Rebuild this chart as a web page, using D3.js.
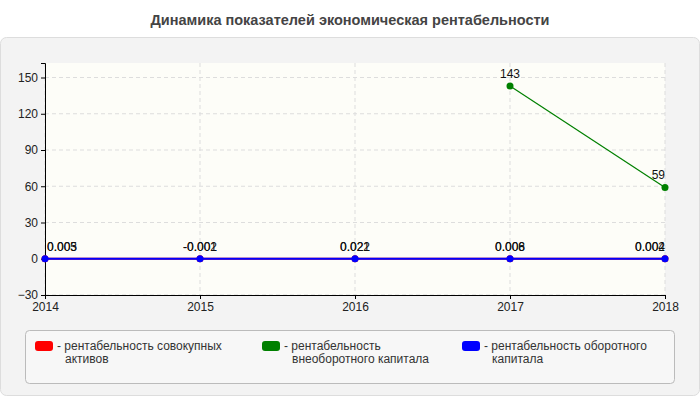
<!DOCTYPE html>
<html><head><meta charset="utf-8">
<script src="https://cdn.jsdelivr.net/npm/d3@7"></script>
<style>body{margin:0;background:#fff;font-family:Arial,"Liberation Sans",sans-serif}</style>
</head><body><svg id="c" width="700" height="400"></svg>
<script>
var years = [2014, 2015, 2016, 2017, 2018]
var seriesNames = ['рентабельность совокупных активов', 'рентабельность внеоборотного капитала', 'рентабельность оборотного капитала']
var seriesColors = ['#ff0000', '#008000', '#0000ff']
var totalAssets = [0.005, -0.001, 0.021, 0.006, 0.004]
var fixedCapital = [null, null, null, 143, 59]
var workingCapital = [0.003, -0.002, 0.022, 0.008, 0.002]
var yTicks = [-30, 0, 30, 60, 90, 120, 150]

var svg = d3.select('#c')
svg.append('text').attr('x', 350).attr('y', 25).attr('text-anchor', 'middle')
  .attr('font-size', 14.5).attr('font-weight', 'bold').attr('fill', '#444')
  .text('Динамика показателей экономическая рентабельности')
svg.append('rect').attr('x', 0.5).attr('y', 37.5).attr('width', 699).attr('height', 358)
  .attr('rx', 6).attr('fill', '#f3f3f3').attr('stroke', '#ddd')

var x = d3.scalePoint().domain(years).range([45, 665])
var y = d3.scaleLinear().domain([-30, 162]).range([295, 63])

svg.append('rect').attr('x', 45).attr('y', 63).attr('width', 620).attr('height', 232).attr('fill', '#fdfdf8')
var g = svg.append('g')
g.selectAll('.hg').data(yTicks).join('line')
  .attr('x1', 45).attr('x2', 665).attr('y1', d => y(d)).attr('y2', d => y(d))
  .attr('stroke', '#ddd').attr('stroke-dasharray', '4,3')
g.selectAll('.vg').data(years).join('line')
  .attr('y1', 63).attr('y2', 295).attr('x1', d => x(d)).attr('x2', d => x(d))
  .attr('stroke', '#ddd').attr('stroke-dasharray', '4,3')

svg.append('g').attr('transform', 'translate(45,0)')
  .call(d3.axisLeft(y).tickValues(yTicks).tickSize(4))
  .call(a => a.selectAll('text').attr('font-size', 12).attr('fill', '#222'))
svg.append('g').attr('transform', 'translate(0,295)')
  .call(d3.axisBottom(x).tickSize(4).tickSizeOuter(0))
  .call(a => a.selectAll('text').attr('font-size', 12).attr('fill', '#222'))

var all = [totalAssets, fixedCapital, workingCapital]
var line = d3.line().defined(d => d.v != null).x(d => x(d.yr)).y(d => y(d.v))
all.forEach(function(s, i) {
  var pts = years.map((yr, j) => ({yr: yr, v: s[j]}))
  svg.append('path').datum(pts).attr('d', line).attr('fill', 'none')
    .attr('stroke', seriesColors[i]).attr('stroke-width', i == 1 ? 1.2 : 2)
  var p = pts.filter(d => d.v != null)
  svg.selectAll(null).data(p).join('circle')
    .attr('cx', d => x(d.yr)).attr('cy', d => y(d.v)).attr('r', 3.5).attr('fill', seriesColors[i])
  svg.selectAll(null).data(p).join('text')
    .attr('x', d => x(d.yr)).attr('y', d => y(d.v) - 8)
    .attr('text-anchor', d => d.yr == 2014 ? 'start' : d.yr == 2018 ? 'end' : 'middle')
    .attr('dx', d => d.yr == 2014 ? 2 : 0)
    .attr('font-size', 12).attr('fill', '#111').text(d => d.v)
})

svg.append('rect').attr('x', 25.5).attr('y', 330.5).attr('width', 649).attr('height', 53)
  .attr('rx', 4).attr('fill', '#f7f7f7').attr('stroke', '#bbb')
var lx = [35, 262, 462]
var split = [2, 1, 2]
seriesNames.forEach(function(n, i) {
  svg.append('rect').attr('x', lx[i]).attr('y', 341).attr('width', 18).attr('height', 10)
    .attr('rx', 3).attr('fill', seriesColors[i])
  var words = n.split(' ')
  var t = svg.append('text').attr('font-size', 12).attr('fill', '#333')
  t.append('tspan').attr('x', lx[i] + 22).attr('y', 350).text('- ' + words.slice(0, split[i]).join(' '))
  t.append('tspan').attr('x', lx[i] + 30).attr('y', 363).text(words.slice(split[i]).join(' '))
})
</script></body></html>
